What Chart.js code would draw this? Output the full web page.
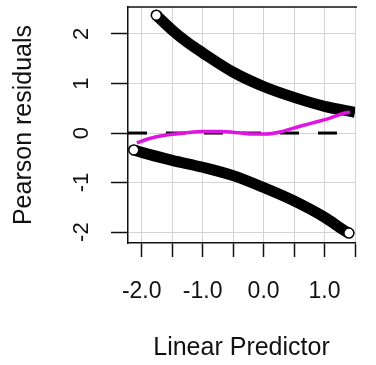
<!DOCTYPE html>
<html>
<head>
<meta charset="utf-8">
<script src="https://cdn.jsdelivr.net/npm/chart.js@4/dist/chart.umd.min.js"></script>
<style>
  html, body { margin: 0; padding: 0; background: #fff; overflow: hidden; }
  #wrap { width: 376px; height: 365px; position: relative; }
</style>
</head>
<body>
<div id="wrap"><canvas id="myChart"></canvas></div>
<script>
// values
const upperX = [-1.76, -1.5, -1.26, -1.0, -0.5, 0.0, 0.5, 1.0, 1.5];
const upperY = [2.38, 2.08, 1.84, 1.62, 1.23, 0.94, 0.72, 0.54, 0.42];

const lowerX = [-2.13, -2.0, -1.5, -1.0, -0.5, 0.0, 0.5, 1.0, 1.34, 1.40];
const lowerY = [-0.34, -0.39, -0.55, -0.69, -0.86, -1.10, -1.37, -1.70, -1.98, -2.02];

const smoothX = [-2.08, -1.9, -1.6, -1.3, -1.0, -0.7, -0.37, -0.18, 0.04, 0.27, 0.49, 0.79, 1.09, 1.32, 1.42];
const smoothY = [-0.20, -0.12, -0.04, 0.0, 0.03, 0.03, 0.0, -0.02, -0.02, 0.02, 0.10, 0.20, 0.30, 0.40, 0.42];

const xTicks = [-2.0, -1.5, -1.0, -0.5, 0.0, 0.5, 1.0, 1.5];
const xLabels = ['-2.0', '', '-1.0', '', '0.0', '', '1.0', ''];
const yTicks = [-2, -1, 0, 1, 2];
const yLabels = ['-2', '-1', '0', '1', '2'];
const refY = 0;

const xMin = -2.225, xMax = 1.5;
const yMin = -2.22, yMax = 2.545;

function pts(xs, ys) {
    return xs.map(function(x, i){ return {x: x, y: ys[i]} })
}
function endRadius(n, first, last) {
    return Array.from({length: n}, function(_, i){
        if (i === 0 && first) return 5
        if (i === n - 1 && last) return 5
        return 0
    })
}

// box round the plot (right side is cut off in the picture)
const boxPlugin = {
    id: 'box',
    afterDraw(chart) {
        const {ctx, chartArea} = chart
        ctx.save()
        ctx.strokeStyle = '#111'
        ctx.lineWidth = 1.5
        ctx.beginPath()
        ctx.moveTo(chartArea.left, chartArea.top)
        ctx.lineTo(chartArea.right + 2, chartArea.top)
        ctx.stroke()
        ctx.restore()
    }
}

// R draws y tick labels parallel to the axis
const yLabelPlugin = {
    id: 'yLabels',
    afterDraw(chart) {
        const {ctx} = chart
        const scale = chart.scales.y
        ctx.save()
        ctx.fillStyle = '#111'
        ctx.font = '22px "Liberation Sans", Arial, sans-serif'
        ctx.textAlign = 'center'
        ctx.textBaseline = 'alphabetic'
        yTicks.forEach(function(v, i){
            const y = scale.getPixelForValue(v)
            ctx.save()
            ctx.translate(88, y)
            ctx.rotate(-Math.PI / 2)
            ctx.fillText(yLabels[i], 0, 0)
            ctx.restore()
        })
        ctx.restore()
    }
}

const ctx = document.getElementById('myChart').getContext('2d')
const myChart = new Chart(ctx, {
    type: 'scatter',
    data: {
        datasets: [
            {
                label: 'smooth',
                data: pts(smoothX, smoothY),
                showLine: true,
                borderColor: '#e014e0',
                borderWidth: 3.5,
                pointRadius: 0,
                cubicInterpolationMode: 'monotone'
            },
            {
                label: 'zero',
                data: [{x: xMin, y: refY}, {x: xMax, y: refY}],
                showLine: true,
                borderColor: '#000',
                borderWidth: 3,
                borderDash: [19, 19],
                pointRadius: 0
            },
            {
                label: 'upper',
                data: pts(upperX, upperY),
                showLine: true,
                borderColor: '#000',
                borderWidth: 11,
                cubicInterpolationMode: 'monotone',
                pointRadius: endRadius(upperX.length, true, false),
                pointBackgroundColor: '#fff',
                pointBorderColor: '#000',
                pointBorderWidth: 1.5
            },
            {
                label: 'lower',
                data: pts(lowerX, lowerY),
                showLine: true,
                borderColor: '#000',
                borderWidth: 11,
                cubicInterpolationMode: 'monotone',
                pointRadius: endRadius(lowerX.length, true, true),
                pointBackgroundColor: '#fff',
                pointBorderColor: '#000',
                pointBorderWidth: 1.5
            }
        ]
    },
    options: {
        responsive: true,
        maintainAspectRatio: false,
        animation: false,
        layout: { padding: { top: 7, right: 0, bottom: 0, left: 0 } },
        plugins: {
            legend: { display: false },
            title: { display: false },
            tooltip: { enabled: false }
        },
        scales: {
            x: {
                type: 'linear',
                min: xMin,
                max: xMax,
                afterBuildTicks: function(scale){
                    scale.ticks = xTicks.map(function(v){ return {value: v} })
                },
                afterFit: function(scale){ scale.height = 122 },
                ticks: {
                    autoSkip: false,
                    maxRotation: 0,
                    padding: 21,
                    color: '#111',
                    font: { family: '"Liberation Sans", Arial, sans-serif', size: 23 },
                    callback: function(value, index){ return xLabels[index] }
                },
                grid: {
                    color: '#d3d3d3',
                    lineWidth: 1,
                    tickColor: '#111',
                    tickWidth: 1.5,
                    tickLength: 14
                },
                border: { display: true, color: '#111', width: 1.5 },
                title: {
                    display: true,
                    text: 'Linear Predictor',
                    color: '#111',
                    font: { family: '"Liberation Sans", Arial, sans-serif', size: 25 },
                    padding: { top: 0, bottom: 2 }
                }
            },
            y: {
                type: 'linear',
                min: yMin,
                max: yMax,
                afterBuildTicks: function(scale){
                    scale.ticks = yTicks.map(function(v){ return {value: v} })
                },
                afterFit: function(scale){ scale.width = 128 },
                ticks: { display: false },
                grid: {
                    color: '#d3d3d3',
                    lineWidth: 1,
                    tickColor: '#111',
                    tickWidth: 1.5,
                    tickLength: 17
                },
                border: { display: true, color: '#111', width: 1.5 },
                title: {
                    display: true,
                    text: 'Pearson residuals',
                    color: '#111',
                    font: { family: '"Liberation Sans", Arial, sans-serif', size: 25 },
                    padding: { top: 9, bottom: 0 }
                }
            }
        }
    },
    plugins: [boxPlugin, yLabelPlugin]
})
</script>
</body>
</html>
